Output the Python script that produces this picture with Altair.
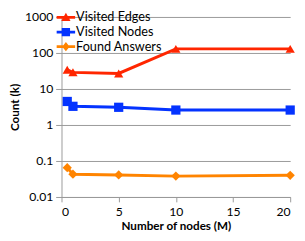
import altair as alt
import pandas as pd

nodes_m = [0.5, 1, 5, 10, 20]
visited_edges = [34, 29, 27, 130, 130]
visited_nodes = [4.5, 3.3, 3.1, 2.6, 2.6]
found_answers = [0.065, 0.043, 0.041, 0.038, 0.040]
series_names = ["Visited Edges", "Visited Nodes", "Found Answers"]
colors = ["#FF2600", "#0433FF", "#FF8400"]
x_ticks = [0, 5, 10, 15, 20]
y_ticks = [0.01, 0.1, 1, 10, 100, 1000]

rows = []
for name, vals in zip(series_names, [visited_edges, visited_nodes, found_answers]):
    for x, v in zip(nodes_m, vals):
        rows.append({"x": x, "v": v, "series": name, "series_leg": name})
df = pd.DataFrame(rows)

color_scale = alt.Scale(domain=series_names, range=colors)
FONT = "Lato"

x_enc = alt.X("x:Q", scale=alt.Scale(domain=[0, 20], nice=False),
              axis=alt.Axis(values=x_ticks, title="Number of nodes (M)", grid=False,
                            tickSize=5, labelPadding=4, titlePadding=3))
y_enc = alt.Y("v:Q", scale=alt.Scale(type="log", domain=[0.01, 1000], nice=False),
              axis=alt.Axis(values=y_ticks, format="~g", title="Count (k)",
                            tickSize=6, labelPadding=3, titlePadding=3))

base = alt.Chart(df)
lines = base.mark_line(strokeWidth=3).encode(
    x=x_enc, y=y_enc,
    color=alt.Color("series:N", scale=color_scale, legend=None),
    detail="series:N",
)
points = base.mark_point(filled=True, size=90, opacity=1).encode(
    x="x:Q", y="v:Q",
    color=alt.Color("series:N", scale=color_scale, legend=None),
    shape=alt.Shape("series:N", scale=alt.Scale(domain=series_names,
                    range=["triangle-up", "square", "diamond"]), legend=None),
)
leg_paths = [
    "M-2,-0.3L2,-0.3L2,0.3L-2,0.3Z M0,-1L1,0.75L-1,0.75Z",
    "M-2,-0.3L2,-0.3L2,0.3L-2,0.3Z M-0.9,-0.9L0.9,-0.9L0.9,0.9L-0.9,0.9Z",
    "M-2,-0.3L2,-0.3L2,0.3L-2,0.3Z M0,-1L0.8,0L0,1L-0.8,0Z",
]
legend_layer = base.mark_point(filled=True, size=90, opacity=0).encode(
    x="x:Q", y="v:Q",
    color=alt.Color("series_leg:N", scale=alt.Scale(domain=series_names, range=colors),
                    legend=alt.Legend(title=None, orient="none", legendX=-2, legendY=-6,
                                      symbolOpacity=1, symbolSize=90, labelFontSize=13,
                                      labelFont=FONT, labelColor="#000", rowPadding=1,
                                      symbolStrokeWidth=0, labelOffset=4)),
    shape=alt.Shape("series_leg:N", scale=alt.Scale(domain=series_names, range=leg_paths),
                    legend=None),
)

chart = alt.layer(lines, points, legend_layer).resolve_scale(
    color="independent", shape="independent"
).properties(
    width=235, height=185,
    autosize=alt.AutoSizeParams(type="none"),
    padding={"left": 55, "top": 6, "right": 7, "bottom": 42},
).configure_view(stroke=None).configure_axis(
    labelFont=FONT, titleFont=FONT, labelFontSize=12.5, titleFontSize=12,
    labelColor="#000", titleColor="#000", titleFontWeight="bold",
    domainColor="#999", tickColor="#999", gridColor="#999", gridWidth=1,
)

chart.save("out.html", embed_options={"renderer": "svg", "actions": False})
